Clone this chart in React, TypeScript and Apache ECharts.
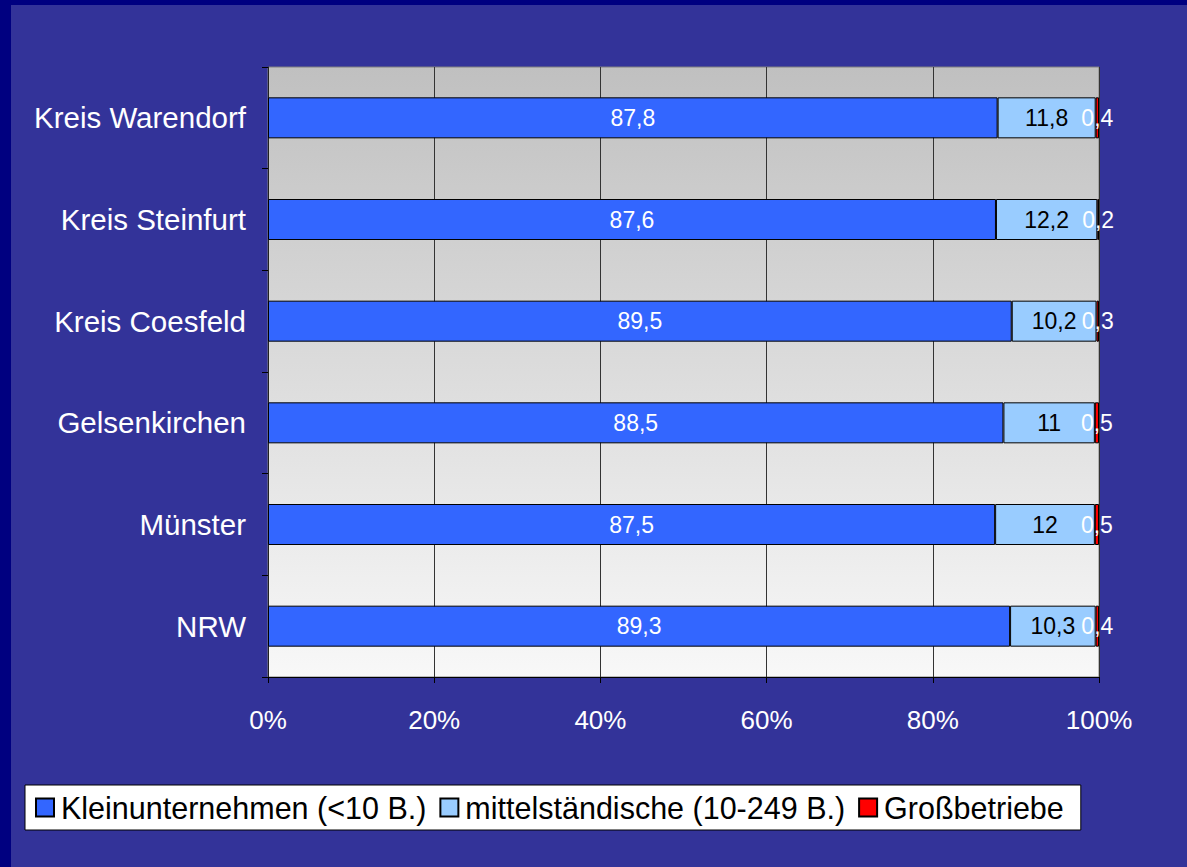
import React, { useEffect, useRef } from "react";
import * as echarts from "echarts";

const categories = ["Kreis Warendorf", "Kreis Steinfurt", "Kreis Coesfeld", "Gelsenkirchen", "Münster", "NRW"];
const klein = [87.8, 87.6, 89.5, 88.5, 87.5, 89.3];
const mittel = [11.8, 12.2, 10.2, 11, 12, 10.3];
const gross = [0.4, 0.2, 0.3, 0.5, 0.5, 0.4];
const seriesNames = ["Kleinunternehmen (<10 B.)", "mittelständische (10-249 B.)", "Großbetriebe"];
const xTicks = [0, 20, 40, 60, 80, 100];

const fmt = (v: number) => String(v).replace(".", ",");
const FONT = "'Liberation Sans', Arial, sans-serif";

export default function App() {
  const ref = useRef<HTMLDivElement>(null);
  useEffect(() => {
    if (!ref.current) return;
    const chart = echarts.init(ref.current, null, { renderer: "svg" });
    const mk = (name: string, data: number[], color: string, labelColor: string) => ({
      name,
      type: "bar",
      stack: "total",
      data,
      barWidth: 41,
      itemStyle: { color, borderColor: "#000", borderWidth: 1 },
      label: {
        show: true,
        position: "inside",
        color: labelColor,
        fontSize: 23,
        fontFamily: FONT,
        formatter: (p: any) => fmt(p.value),
      },
    });
    chart.setOption({
      animation: false,
      backgroundColor: "#333399",
      textStyle: { fontFamily: FONT },
      graphic: [
        { type: "rect", left: 0, top: 0, shape: { width: 11, height: 867 }, style: { fill: "#000080" }, z: -1 },
        { type: "rect", left: 0, top: 0, shape: { width: 1187, height: 5 }, style: { fill: "#000080" }, z: -1 },
      ],
      grid: {
        left: 268,
        top: 67,
        width: 831,
        height: 610,
        show: true,
        borderColor: "#808080",
        borderWidth: 1,
        backgroundColor: new echarts.graphic.LinearGradient(0, 0, 0, 1, [
          { offset: 0, color: "#c0c0c0" },
          { offset: 1, color: "#f8f8f8" },
        ]),
      },
      legend: {
        left: 25,
        top: 785,
        data: seriesNames,
        backgroundColor: "#fff",
        borderColor: "#000",
        borderWidth: 1,
        borderRadius: 0,
        padding: [7, 17, 7, 10],
        itemWidth: 18,
        itemHeight: 18,
        itemGap: 13,
        icon: "rect",
        textStyle: { color: "#000", fontSize: 30.5, fontFamily: FONT, padding: [0, 0, 0, 2] },
      },
      xAxis: {
        type: "value",
        min: 0,
        max: 100,
        interval: 20,
        axisLine: { show: true, lineStyle: { color: "#000", width: 1 } },
        axisTick: { show: true, length: 6, lineStyle: { color: "#000" } },
        splitLine: { show: true, lineStyle: { color: "#333", width: 1 } },
        axisLabel: {
          color: "#fff",
          fontSize: 26,
          fontFamily: FONT,
          margin: 30,
          formatter: (v: number) => (xTicks.includes(v) ? v + "%" : ""),
        },
      },
      yAxis: {
        type: "category",
        data: categories,
        inverse: true,
        axisLine: { show: true, lineStyle: { color: "#222", width: 1 } },
        axisTick: { show: true, length: 6, lineStyle: { color: "#000" } },
        axisLabel: { color: "#fff", fontSize: 29.5, fontFamily: FONT, margin: 22 },
        splitLine: { show: false },
      },
      series: [
        mk(seriesNames[0], klein, "#3366ff", "#fff"),
        mk(seriesNames[1], mittel, "#99ccff", "#000"),
        mk(seriesNames[2], gross, "#ff0000", "#fff"),
      ],
    });
    return () => chart.dispose();
  }, []);
  return <div ref={ref} style={{ position: "fixed", left: 0, top: 0, width: 1187, height: 867 }} />;
}
